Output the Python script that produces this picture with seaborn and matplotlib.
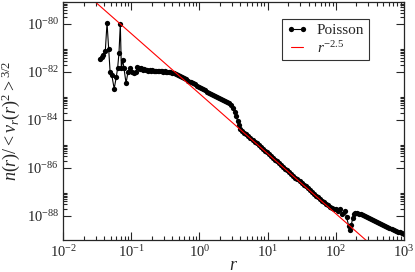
import numpy as np
import pandas as pd
import matplotlib
matplotlib.use("Agg")
import matplotlib.pyplot as plt
import matplotlib.ticker as mticker
import seaborn as sns


# -----------------------------
# Data (as log10 values)
# -----------------------------
log_r = [
    -1.457, -1.43, -1.41, -1.38, -1.355, -1.33, -1.31, -1.286, -1.25, -1.22,
    -1.20, -1.18, -1.16, -1.145, -1.125, -1.106, -1.076, -1.047, -1.018, -0.99,
    -0.96, -0.93, -0.91, -0.89, -0.87, -0.85, -0.83, -0.81, -0.79, -0.77,
    -0.75, -0.73, -0.71, -0.69, -0.67, -0.65, -0.63, -0.61, -0.59, -0.57,
    -0.55, -0.53, -0.51, -0.49, -0.47, -0.45, -0.43, -0.40, -0.37, -0.34,
    -0.31, -0.28, -0.25, -0.22, -0.19, -0.16, -0.13, -0.10, -0.07, -0.04,
    -0.01, 0.02, 0.05, 0.08, 0.11, 0.14, 0.17, 0.20, 0.23, 0.26,
    0.29, 0.32, 0.35, 0.38, 0.41, 0.44, 0.47, 0.50, 0.52, 0.54,
    0.56, 0.58, 0.60, 0.63, 0.66, 0.69, 0.72, 0.75, 0.78, 0.81,
    0.84, 0.87, 0.90, 0.93, 0.96, 0.99, 1.02, 1.05, 1.08, 1.11,
    1.14, 1.17, 1.20, 1.23, 1.26, 1.29, 1.32, 1.35, 1.38, 1.41,
    1.44, 1.47, 1.50, 1.53, 1.56, 1.59, 1.62, 1.65, 1.68, 1.71,
    1.74, 1.77, 1.80, 1.83, 1.86, 1.89, 1.92, 1.95, 1.98, 2.01,
    2.04, 2.07, 2.10, 2.13, 2.16, 2.19, 2.21, 2.23, 2.25, 2.27,
    2.29, 2.31, 2.34, 2.37, 2.40, 2.43, 2.46, 2.49, 2.52, 2.55,
    2.58, 2.61, 2.64, 2.67, 2.70, 2.73, 2.76, 2.79, 2.82, 2.85,
    2.88, 2.91, 2.94, 2.97, 3.00,
]
log_n = [
    -81.47, -81.39, -81.29, -81.11, -79.95, -81.05, -81.99, -82.12, -82.70, -82.22,
    -81.85, -81.22, -80.01, -81.85, -81.50, -81.85, -82.47, -81.99, -81.85, -82.00,
    -82.03, -81.99, -81.78, -81.84, -81.88, -81.85, -81.90, -81.88, -81.92, -81.90,
    -81.94, -81.92, -81.95, -81.93, -81.96, -81.95, -81.96, -81.97, -81.96, -81.98,
    -81.97, -81.99, -81.98, -82.00, -82.00, -82.01, -82.02, -82.04, -82.06, -82.09,
    -82.13, -82.17, -82.21, -82.26, -82.31, -82.36, -82.41, -82.46, -82.52, -82.57,
    -82.62, -82.67, -82.72, -82.77, -82.82, -82.87, -82.92, -82.97, -83.01, -83.06,
    -83.10, -83.14, -83.18, -83.22, -83.26, -83.30, -83.38, -83.52, -83.66, -83.85,
    -84.05, -84.22, -84.36, -84.46, -84.53, -84.60, -84.68, -84.75, -84.83, -84.90,
    -84.98, -85.05, -85.13, -85.20, -85.28, -85.35, -85.43, -85.50, -85.58, -85.65,
    -85.73, -85.80, -85.88, -85.95, -86.03, -86.10, -86.18, -86.25, -86.33, -86.40,
    -86.48, -86.55, -86.63, -86.70, -86.77, -86.85, -86.92, -87.00, -87.07, -87.15,
    -87.22, -87.30, -87.37, -87.44, -87.50, -87.56, -87.62, -87.66, -87.70, -87.72,
    -87.80, -87.72, -87.90, -87.78, -88.05, -88.40, -88.58, -88.37, -88.10, -87.92,
    -87.88, -87.87, -87.90, -87.93, -87.97, -88.00, -88.04, -88.08, -88.12, -88.16,
    -88.20, -88.24, -88.28, -88.32, -88.36, -88.41, -88.45, -88.50, -88.54, -88.58,
    -88.62, -88.66, -88.69, -88.72, -88.74,
]

# power law r^-2.5 reference line
fit_r = [1e-2, 1e3]
fit_slope = -2.5
fit_log_amp = -82.9

df = pd.DataFrame({"r": 10.0 ** np.array(log_r), "n": 10.0 ** np.array(log_n)})
fit_df = pd.DataFrame({"r": fit_r})
fit_df["n"] = 10.0 ** fit_log_amp * fit_df["r"] ** fit_slope


# -----------------------------
# Style
# -----------------------------
sns.set_style("ticks")
plt.rcParams["font.family"] = ["Liberation Serif", "DejaVu Serif"]
plt.rcParams["mathtext.fontset"] = "custom"
plt.rcParams["mathtext.rm"] = "Liberation Serif"
plt.rcParams["mathtext.it"] = "Liberation Serif:italic"
plt.rcParams["mathtext.bf"] = "Liberation Serif:bold"

fig = plt.figure(figsize=(4.15, 2.72), dpi=100)
ax = fig.add_axes([0.152, 0.118, 0.821, 0.875])

sns.lineplot(data=df, x="r", y="n", ax=ax, color="black", lw=0.8,
             marker="o", markersize=3.8, markeredgewidth=0, estimator=None,
             label="Poisson")
sns.lineplot(data=fit_df, x="r", y="n", ax=ax, color="red", lw=0.8,
             estimator=None, label=r"$r^{-2.5}$")

ax.set_xscale("log")
ax.set_yscale("log")
ax.set_xlim(1e-2, 1e3)
ax.set_ylim(1e-89, 10 ** -79.08)

# ticks
ax.xaxis.set_major_locator(mticker.LogLocator(base=10, numticks=20))
ax.xaxis.set_minor_locator(mticker.LogLocator(base=10, subs=np.arange(2, 10), numticks=20))
ax.yaxis.set_major_locator(mticker.LogLocator(base=100, numticks=20))
ax.yaxis.set_minor_locator(mticker.LogLocator(base=100, subs=np.arange(2, 10), numticks=20))
fmt = mticker.FuncFormatter(lambda v, p: r"$\mathregular{10^{%d}}$" % round(np.log10(v)))
ax.xaxis.set_major_formatter(fmt)
ax.yaxis.set_major_formatter(fmt)
ax.xaxis.set_minor_formatter(mticker.NullFormatter())
ax.yaxis.set_minor_formatter(mticker.NullFormatter())
ax.tick_params(which="both", direction="in", top=True, right=True, labelsize=10.5,
               width=0.8, pad=3)
ax.tick_params(which="major", length=6)
ax.tick_params(which="minor", length=3)
for s in ax.spines.values():
    s.set_linewidth(0.9)

ax.set_xlabel(r"$r$", fontsize=13, labelpad=-2)
ax.set_ylabel(r"$n(r)/<v_r(r)^2>^{3/2}$", fontsize=13, labelpad=3)

leg = ax.legend(loc="upper right", bbox_to_anchor=(0.92, 0.96), fontsize=11,
                frameon=True, fancybox=False, edgecolor="black",
                handlelength=1.4, numpoints=2, borderpad=0.3, labelspacing=0.15,
                handletextpad=0.6)
leg.get_frame().set_linewidth(0.8)

fig.savefig("out.png", dpi=100)
